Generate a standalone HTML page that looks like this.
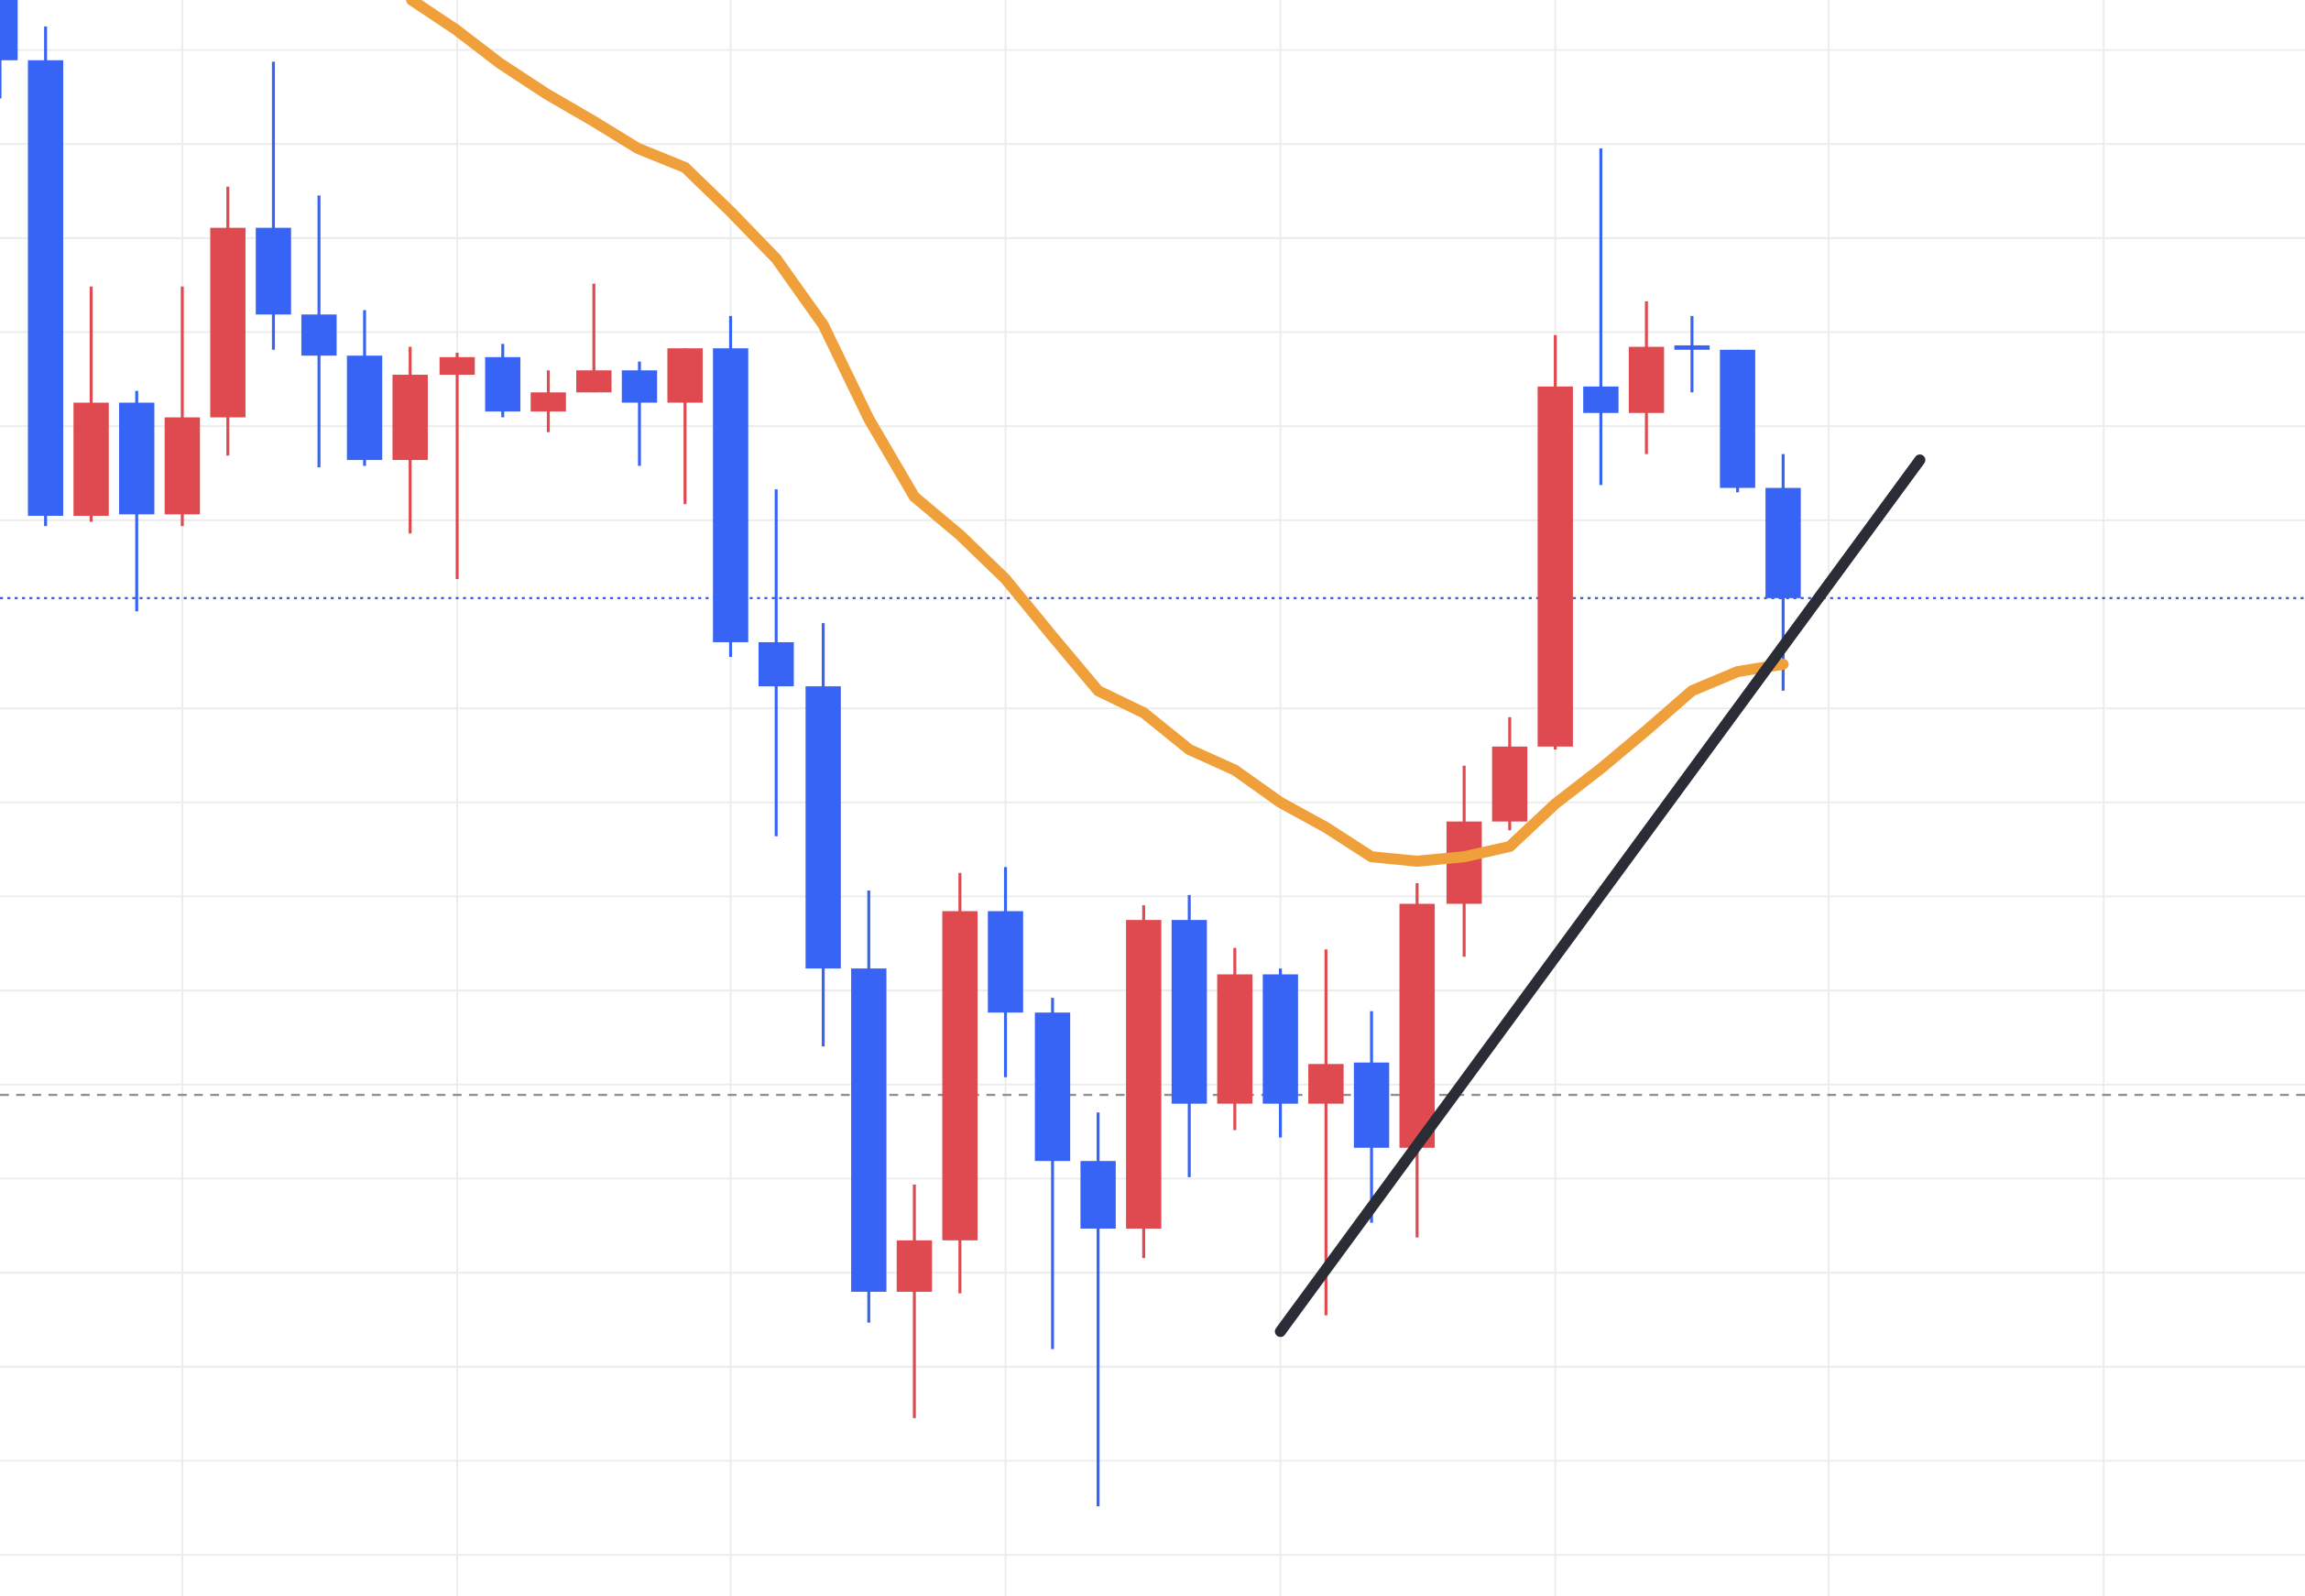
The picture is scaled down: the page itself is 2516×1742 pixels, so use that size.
<!DOCTYPE html>
<html><head><meta charset="utf-8"><style>
html,body{margin:0;padding:0;background:#fff;}
svg{display:block;}
</style></head><body>
<svg width="2516" height="1742" viewBox="0 0 1568 1086" preserveAspectRatio="none" xmlns="http://www.w3.org/2000/svg">
<rect width="1568" height="1086" fill="#fff"/>
<g stroke="#ececec" stroke-width="1.2">
<line x1="0" y1="34" x2="1568" y2="34"/><line x1="0" y1="98" x2="1568" y2="98"/><line x1="0" y1="162" x2="1568" y2="162"/><line x1="0" y1="226" x2="1568" y2="226"/><line x1="0" y1="290" x2="1568" y2="290"/><line x1="0" y1="354" x2="1568" y2="354"/><line x1="0" y1="482" x2="1568" y2="482"/><line x1="0" y1="546" x2="1568" y2="546"/><line x1="0" y1="610" x2="1568" y2="610"/><line x1="0" y1="674" x2="1568" y2="674"/><line x1="0" y1="738" x2="1568" y2="738"/><line x1="0" y1="802" x2="1568" y2="802"/><line x1="0" y1="866" x2="1568" y2="866"/><line x1="0" y1="930" x2="1568" y2="930"/><line x1="0" y1="994" x2="1568" y2="994"/><line x1="0" y1="1058" x2="1568" y2="1058"/>
<line x1="124" y1="0" x2="124" y2="1086"/><line x1="311" y1="0" x2="311" y2="1086"/><line x1="497" y1="0" x2="497" y2="1086"/><line x1="684" y1="0" x2="684" y2="1086"/><line x1="871" y1="0" x2="871" y2="1086"/><line x1="1058" y1="0" x2="1058" y2="1086"/><line x1="1244" y1="0" x2="1244" y2="1086"/><line x1="1431" y1="0" x2="1431" y2="1086"/>
</g>
<line x1="0" y1="407" x2="1568" y2="407" stroke="#3a5fe0" stroke-width="1.5" stroke-dasharray="2,3"/>
<line x1="0" y1="745" x2="1568" y2="745" stroke="#909090" stroke-width="1.5" stroke-dasharray="6,5"/>
<g stroke="#3864f5" stroke-width="2">
<line x1="0" y1="0" x2="0" y2="67"/><line x1="31" y1="18" x2="31" y2="358"/><line x1="93" y1="266" x2="93" y2="416"/><line x1="186" y1="42" x2="186" y2="238"/><line x1="217" y1="133" x2="217" y2="318"/><line x1="248" y1="211" x2="248" y2="317"/><line x1="342" y1="234" x2="342" y2="284"/><line x1="435" y1="246" x2="435" y2="317"/><line x1="497" y1="215" x2="497" y2="447"/><line x1="528" y1="333" x2="528" y2="569"/><line x1="560" y1="424" x2="560" y2="712"/><line x1="591" y1="606" x2="591" y2="900"/><line x1="684" y1="590" x2="684" y2="733"/><line x1="716" y1="679" x2="716" y2="918"/><line x1="747" y1="757" x2="747" y2="1025"/><line x1="809" y1="609" x2="809" y2="801"/><line x1="871" y1="659" x2="871" y2="774"/><line x1="933" y1="688" x2="933" y2="832"/><line x1="1089" y1="101" x2="1089" y2="330"/><line x1="1151" y1="215" x2="1151" y2="267"/><line x1="1182" y1="238" x2="1182" y2="335"/><line x1="1213" y1="309" x2="1213" y2="470"/>
</g>
<g fill="#3864f5">
<rect x="-12" y="0" width="24" height="41"/><rect x="19" y="41" width="24" height="310"/><rect x="81" y="274" width="24" height="76"/><rect x="174" y="155" width="24" height="59"/><rect x="205" y="214" width="24" height="28"/><rect x="236" y="242" width="24" height="71"/><rect x="330" y="243" width="24" height="37"/><rect x="423" y="252" width="24" height="22"/><rect x="485" y="237" width="24" height="200"/><rect x="516" y="437" width="24" height="30"/><rect x="548" y="467" width="24" height="192"/><rect x="579" y="659" width="24" height="220"/><rect x="672" y="620" width="24" height="69"/><rect x="704" y="689" width="24" height="101"/><rect x="735" y="790" width="24" height="46"/><rect x="797" y="626" width="24" height="125"/><rect x="859" y="663" width="24" height="88"/><rect x="921" y="723" width="24" height="58"/><rect x="1077" y="263" width="24" height="18"/><rect x="1139" y="235" width="24" height="3"/><rect x="1170" y="238" width="24" height="94"/><rect x="1201" y="332" width="24" height="75"/>
</g>
<g stroke="#de4a4f" stroke-width="2">
<line x1="62" y1="195" x2="62" y2="355"/><line x1="124" y1="195" x2="124" y2="358"/><line x1="155" y1="127" x2="155" y2="310"/><line x1="279" y1="236" x2="279" y2="363"/><line x1="311" y1="240" x2="311" y2="394"/><line x1="373" y1="252" x2="373" y2="294"/><line x1="404" y1="193" x2="404" y2="267"/><line x1="466" y1="237" x2="466" y2="343"/><line x1="622" y1="806" x2="622" y2="965"/><line x1="653" y1="594" x2="653" y2="880"/><line x1="778" y1="616" x2="778" y2="856"/><line x1="840" y1="645" x2="840" y2="769"/><line x1="902" y1="646" x2="902" y2="895"/><line x1="964" y1="601" x2="964" y2="842"/><line x1="996" y1="521" x2="996" y2="651"/><line x1="1027" y1="488" x2="1027" y2="565"/><line x1="1058" y1="228" x2="1058" y2="510"/><line x1="1120" y1="205" x2="1120" y2="309"/>
</g>
<g fill="#de4a4f">
<rect x="50" y="274" width="24" height="77"/><rect x="112" y="284" width="24" height="66"/><rect x="143" y="155" width="24" height="129"/><rect x="267" y="255" width="24" height="58"/><rect x="299" y="243" width="24" height="12"/><rect x="361" y="267" width="24" height="13"/><rect x="392" y="252" width="24" height="15"/><rect x="454" y="237" width="24" height="37"/><rect x="610" y="844" width="24" height="35"/><rect x="641" y="620" width="24" height="224"/><rect x="766" y="626" width="24" height="210"/><rect x="828" y="663" width="24" height="88"/><rect x="890" y="724" width="24" height="27"/><rect x="952" y="615" width="24" height="166"/><rect x="984" y="559" width="24" height="56"/><rect x="1015" y="508" width="24" height="51"/><rect x="1046" y="263" width="24" height="245"/><rect x="1108" y="236" width="24" height="45"/>
</g>
<polyline fill="none" stroke="#f0a03a" stroke-width="7.5" stroke-linejoin="round" stroke-linecap="round" points="280,0 310,20 340,43 372,64 403,82 434,101 466,114 497,144 528,176 560,221 591,285 622,338 653,364 684,394 716,433 747,470 778,485 809,510 840,524 871,546 902,563 933,583 964,586 996,583 1027,576 1058,547 1089,523 1120,497 1151,470 1182,457 1213,452"/>
<line x1="871" y1="906" x2="1306" y2="313" stroke="#2a2d36" stroke-width="7.5" stroke-linecap="round"/>
</svg>
</body></html>
